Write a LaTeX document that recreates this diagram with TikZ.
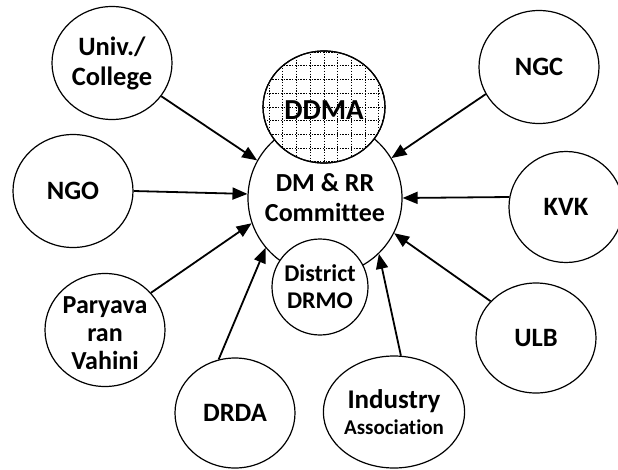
\documentclass[tikz,border=0pt]{standalone}
\usepackage{fontspec}
\setmainfont[Ligatures={NoCommon}]{Carlito}
\usetikzlibrary{shapes.geometric,arrows.meta}
\begin{document}
\begin{tikzpicture}[x=1pt,y=-1pt,
  org/.style={draw,line width=1.2pt,ellipse,fill=white,inner sep=0pt,
    minimum width=120pt,minimum height=113pt,align=center,
    font=\bfseries\fontsize{26.5}{30}\selectfont},
  link/.style={line width=1.8pt,-{Triangle[length=15pt,width=12pt]}}]
\useasboundingbox (0,0) rectangle (618,469);
% central committee
\node[org,circle,minimum size=154pt,font=\bfseries\fontsize{26}{30}\selectfont] (c) at (325,198) {DM \& RR\\Committee};
% DDMA with dotted grid
\node[org,minimum width=122pt,minimum height=112pt] (ddma) at (324,107) {};
\begin{scope}
  \clip (324,107) ellipse (61pt and 56pt);
  \foreach \i in {-5,...,5} {
    \draw[line width=1pt,dash pattern=on 1.3pt off 1.5pt] (324+\i*13.7,40) -- (324+\i*13.7,175);
    \draw[line width=1pt,dash pattern=on 1.3pt off 1.5pt] (250,107+\i*13.7) -- (400,107+\i*13.7);
  }
\end{scope}
\node[draw,line width=1.2pt,ellipse,minimum width=122pt,minimum height=112pt] at (324,107) {};
\node[font=\bfseries\fontsize{29}{30}\selectfont] at (324,110) {DDMA};
% District DRMO
\node[org,circle,minimum size=96pt,font=\bfseries\fontsize{24}{27}\selectfont] (drmo) at (320,287) {District\\DRMO};
% outer organisations
\node[org] (univ) at (112,63) {Univ./\\College};
\node[org] (ngo) at (73,191) {NGO};
\node[org] (pv) at (105,330) {};
\node[align=center,font=\bfseries\fontsize{26}{28}\selectfont] (pvt) at (105,333) {Paryava\\ran\\Vahini};
\node[org,minimum height=110pt] (drda) at (235,413) {DRDA};
\node[org,minimum height=112pt] (ind) at (394,412) {\fontsize{27}{28}\selectfont Industry\\[-4pt]\fontsize{21}{22}\selectfont Association};
\node[org] (ngc) at (539,67) {NGC};
\node[org,minimum width=114pt,minimum height=111pt] (kvk) at (566,207) {KVK};
\node[org,minimum height=110pt] (ulb) at (536,338) {ULB};
% connectors
\draw[link] (univ.-34) -- (c.151);
\draw[link] (ngo.east) -- (c.177);
\draw[link] (pv.39) -- (c.199);
\draw[link] (drda.107) -- (c.220);
\draw[link] (ind.83) -- (c.314);
\draw[link] (ulb.141) -- (c.333);
\draw[link] (kvk.170) -- (c.0);
\draw[link] (ngc.207) -- (c.31);
\end{tikzpicture}
\end{document}
